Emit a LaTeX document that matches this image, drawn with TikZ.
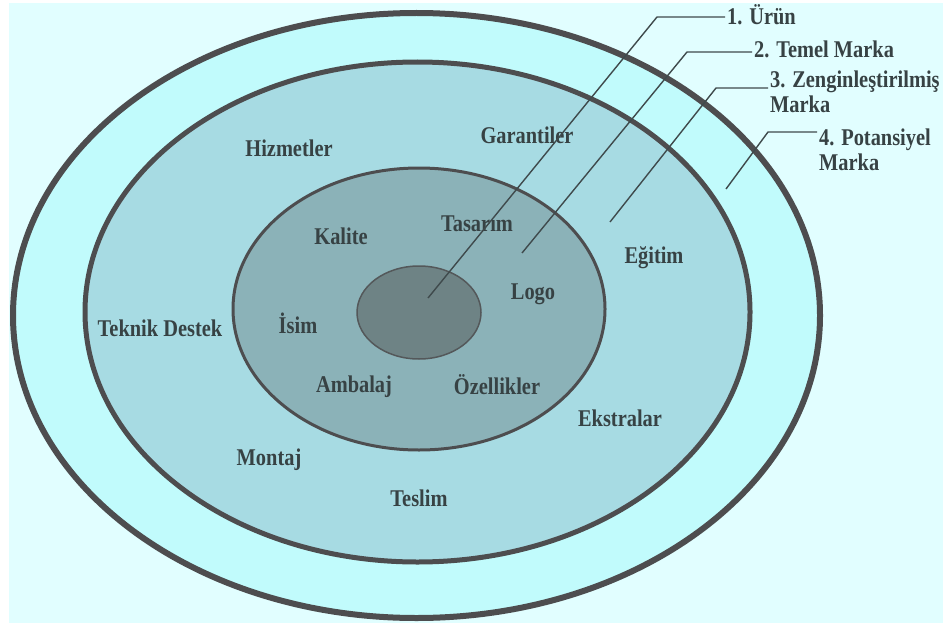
\documentclass[tikz,border=0pt]{standalone}
\usepackage{fontspec}
\setmainfont{Liberation Serif}[FakeStretch=0.85]
\usetikzlibrary{positioning}

\begin{document}
\begin{tikzpicture}[x=1pt, y=-1pt,
    lbl/.style={font=\bfseries\fontsize{24}{26}\selectfont, text=textColour, inner sep=2pt},
    key/.style={lbl, font=\bfseries\fontsize{24}{25}\selectfont, align=left},
    ring/.style={draw=borderColour},
    leader/.style={draw=leaderColour, line width=1.4pt}]

    \definecolor{borderColour}{HTML}{4D4D4F}
    \definecolor{leaderColour}{HTML}{3F4A4C}
    \definecolor{textColour}{HTML}{374244}
    \definecolor{bgColour}{HTML}{E1FEFF}
    \definecolor{fillOuter}{HTML}{C1FBFC}
    \definecolor{fillMiddle}{HTML}{A7DBE3}
    \definecolor{fillInner}{HTML}{8BB2B8}
    \definecolor{fillCore}{HTML}{6E8385}

    % Background
    \useasboundingbox (0,0) rectangle (949,623);
    \fill[white] (0,0) rectangle (949,623);
    \fill[bgColour] (9,3) rectangle (943,623);

    % Draw rings
    \filldraw[ring, fill=fillOuter, line width=6pt] (416.5,315.5) ellipse (403.5 and 302.5);
    \filldraw[ring, fill=fillMiddle, line width=5pt] (417.5,312) ellipse (332.5 and 250);
    \filldraw[ring, fill=fillInner, line width=3pt] (419,309) ellipse (186 and 141);
    \filldraw[draw=borderColour!80!fillCore, fill=fillCore, line width=1.5pt] (419,312.5) ellipse (62 and 46.5);

    % Outer ring labels
    \node[lbl] (hizmet) at (289,148) {Hizmetler};
    \node[lbl] (garanti) at (527,135) {Garantiler};
    \node[lbl] (egitim) at (654,258) {Eğitim};
    \node[lbl] (teknik) at (160,328) {Teknik Destek};
    \node[lbl] (ekstra) at (620,418) {Ekstralar};
    \node[lbl] (montaj) at (269,460) {Montaj};
    \node[lbl] (teslim) at (419,498) {Teslim};

    % Inner ring labels
    \node[lbl] (kalite) at (341,236) {Kalite};
    \node[lbl] (tasarim) at (477,224) {Tasarım};
    \node[lbl] (logo) at (533,294) {Logo};
    \node[lbl] (isim) at (298,323) {İsim};
    \node[lbl] (ambalaj) at (354,387) {Ambalaj};
    \node[lbl] (ozellik) at (497,385) {Özellikler};

    % Leader lines: 1. Ürün
    \coordinate (P1) at (428,298);
    \coordinate (B1) at (657,17);
    \node[key, anchor=west] (L1) at (725,15) {1. Ürün};
    \draw[leader] (P1) -- (B1) -- (B1 -| L1.west);

    % 2. Temel Marka
    \coordinate (P2) at (522,253);
    \coordinate (B2) at (687,52);
    \node[key, anchor=west] (L2) at (752,49) {2. Temel Marka};
    \draw[leader] (P2) -- (B2) -- (B2 -| L2.west);

    % 3. Zenginlestirilmis Marka
    \coordinate (P3) at (610,222);
    \coordinate (B3) at (716,88);
    \node[key, anchor=north west] (L3) at (768,69) {3. Zenginleştirilmiş\\Marka};
    \draw[leader] (P3) -- (B3) -- (B3 -| L3.west);

    % 4. Potansiyel Marka
    \coordinate (P4) at (726,189);
    \coordinate (B4) at (768,132);
    \node[key, anchor=north west] (L4) at (817,127) {4. Potansiyel\\Marka};
    \draw[leader] (P4) -- (B4) -- (B4 -| L4.west);

\end{tikzpicture}
\end{document}
